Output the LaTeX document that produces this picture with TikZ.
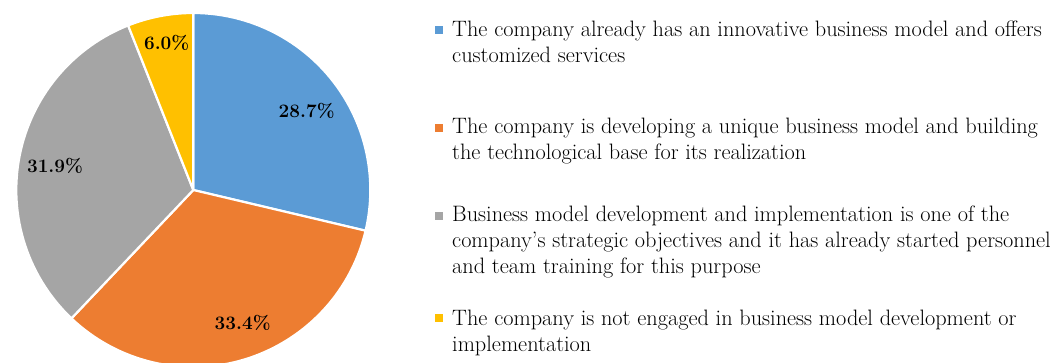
\documentclass[tikz,border=0pt]{standalone}
\usepackage{fontspec}
\definecolor{pieblue}{HTML}{5B9BD5}
\definecolor{pieorange}{HTML}{ED7D31}
\definecolor{piegray}{HTML}{A5A5A5}
\definecolor{pieyellow}{HTML}{FFC000}
\begin{document}
\begin{tikzpicture}[x=1pt,y=1pt,
    slice/.style={draw=white,line width=2.2pt,line join=round},
    pct/.style={font=\fontsize{19}{22}\selectfont\bfseries},
    keybox/.style={inner sep=0pt,minimum size=7.5pt},
    entry/.style={anchor=north west,inner sep=0pt,align=left,
      font=\fontsize{22.3}{26}\selectfont}]
  \useasboundingbox (0,0) rectangle (1062,363);
  % pie, clockwise from the top
  \begin{scope}[shift={(193.3,173)}]
    \filldraw[slice,fill=pieblue] (0,0) -- (90:177)
      arc[start angle=90,end angle=-13.3,radius=177] -- cycle;
    \filldraw[slice,fill=pieorange] (0,0) -- (-13.3:177)
      arc[start angle=-13.3,end angle=-133.5,radius=177] -- cycle;
    \filldraw[slice,fill=piegray] (0,0) -- (-133.5:177)
      arc[start angle=-133.5,end angle=-248.4,radius=177] -- cycle;
    \filldraw[slice,fill=pieyellow] (0,0) -- (-248.4:177)
      arc[start angle=-248.4,end angle=-270,radius=177] -- cycle;
    \draw
      (34.9:138.2) node[pct] (p1){28.7\%}
      (-69.6:141.6) node[pct] (p2){33.4\%}
      (170:140.4) node[pct] (p3){31.9\%}
      (100.3:149.1) node[pct] (p4){6.0\%};
  \end{scope}
  % legend
  \node[keybox,fill=pieblue] (k1) at (439,333) {};
  \node[keybox,fill=pieorange] (k2) at (439,235) {};
  \node[keybox,fill=piegray] (k3) at (439,147) {};
  \node[keybox,fill=pieyellow] (k4) at (439,45) {};
  \node[entry] (t1) at (452,342.5) {The company already has an innovative business model and offers\\customized services};
  \node[entry] (t2) at (452,245.5) {The company is developing a unique business model and building\\the technological base for its realization};
  \node[entry] (t3) at (452,157.5) {Business model development and implementation is one of the\\company’s strategic objectives and it has already started personnel\\and team training for this purpose};
  \node[entry] (t4) at (452,53.5) {The company is not engaged in business model development or\\implementation};
\end{tikzpicture}
\end{document}
